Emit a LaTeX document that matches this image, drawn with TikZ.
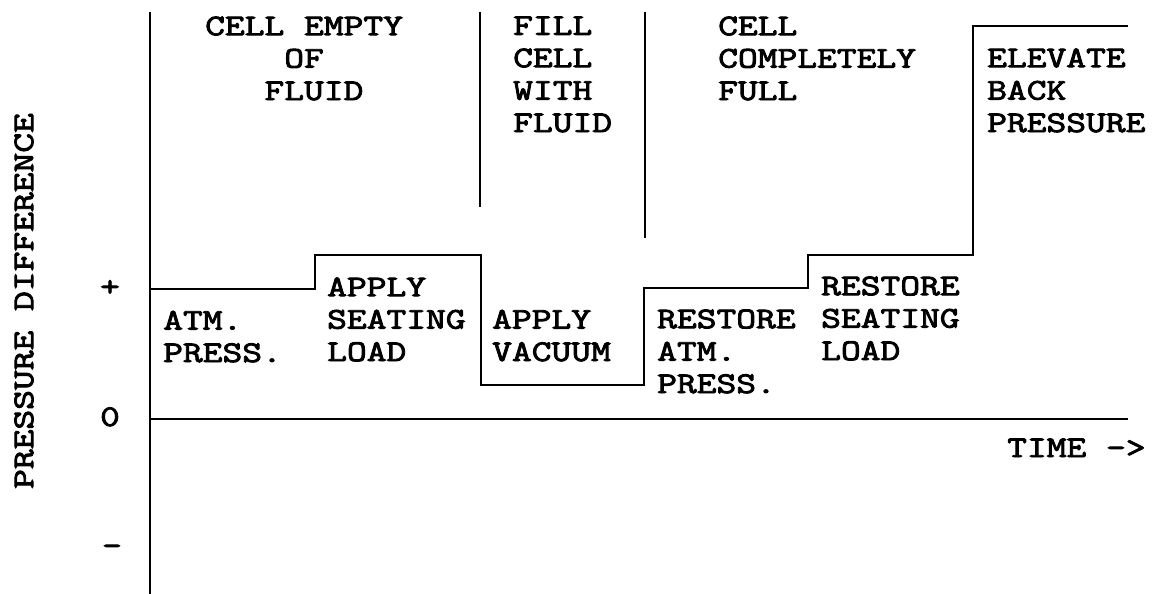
\documentclass[tikz,border=0pt]{standalone}
\usepackage{fontspec}
\newfontfamily\platefont{Latin Modern Mono}[FakeStretch=1.28,FakeBold=3]
\begin{document}
\begin{tikzpicture}[x=1pt,y=-1pt,
  line/.style={draw=black,line width=2.5pt},
  trace/.style={draw=black,line width=2.6pt,line join=miter},
  label/.style={font=\platefont\fontsize{30}{32.4}\selectfont,inner sep=0pt,align=left,anchor=base west},
  tick/.style={label,anchor=base},
]
\useasboundingbox (0,0) rectangle (1154,594);
\draw[line] (150,12) -- (150,594);
\draw[line] (150,419) -- (1128,419);
\draw[line] (480,12) -- (480,207);
\draw[line] (645,12) -- (645,238);
\draw[trace] (150,289) -| (315,255) -| (481,385) -| (644,288) -| (808,255) -| (973,26) -- (1128,26);
% anchored at the baseline of each block's last line
\node[label] (empty) at (205,100) {CELL EMPTY\\\hphantom{CELL}OF\\\hphantom{CEL}FLUID};
\node[label] (fill) at (513,132) {FILL\\CELL\\WITH\\FLUID};
\node[label] (full) at (718,100) {CELL\\COMPLETELY\\FULL};
\node[label] (elevate) at (987,132) {ELEVATE\\BACK\\PRESSURE};
\node[label] (atm) at (163,362) {ATM.\\PRESS.};
\node[label] (seat) at (327,361) {APPLY\\SEATING\\LOAD};
\node[label] (vacuum) at (492,361) {APPLY\\VACUUM};
\node[label] (restatm) at (657,393) {RESTORE\\ATM.\\PRESS.};
\node[label] (restseat) at (821,360) {RESTORE\\SEATING\\LOAD};
\node[label] (time) at (1007,457) {TIME ->};
\node[tick] (plus) at (110,296) {+};
\node[tick] (zero) at (110,426) {0};
\node[tick] (minus) at (112,555) {-};
\node[label,anchor=center,rotate=90] (ylabel) at (24,301) {PRESSURE DIFFERENCE};
\end{tikzpicture}
\end{document}
